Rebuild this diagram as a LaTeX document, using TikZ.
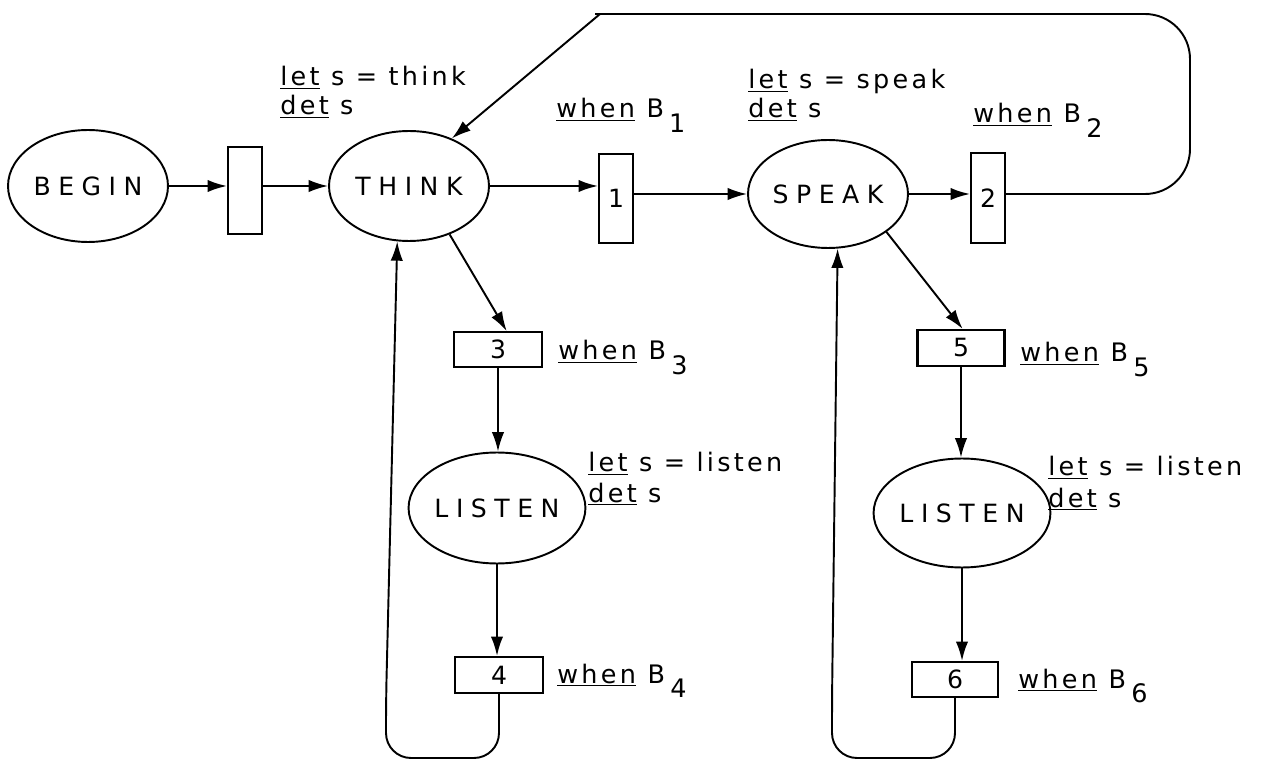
\documentclass[tikz,border=0pt]{standalone}
\usepackage{fontspec}
\setmainfont{DejaVu Sans}
\newfontfamily\nodefont{DejaVu Sans}[LetterSpace=30]
\newfontfamily\lblfont{DejaVu Sans}[LetterSpace=13]
\usetikzlibrary{arrows.meta,shapes.geometric,calc}
\newcommand{\ulw}[1]{\underline{#1}}
\newcommand{\lowsub}[1]{\hspace{3pt}\raisebox{-8.5pt}{#1}}
\begin{document}
\begin{tikzpicture}[x=0.02cm,y=-0.02cm,
  place/.style={ellipse,draw,line width=1.1pt,inner sep=0pt,font=\nodefont\fontsize{14.3}{16}\selectfont},
  trans/.style={rectangle,draw,line width=1.2pt,inner sep=0pt,font=\nodefont\fontsize{14.3}{16}\selectfont},
  lbl/.style={anchor=base west,inner sep=0pt,font=\lblfont\fontsize{14.5}{17}\selectfont},
  arc/.style={line width=1.1pt,-{Latex[length=11pt,width=7pt]}}]
\useasboundingbox[fill=white] (0,0) rectangle (1269,760);

% places
\node[place,minimum width=3.2cm,minimum height=2.24cm] (BEGIN) at (88,186) {BEGIN};
\node[place,minimum width=3.2cm,minimum height=2.2cm] (THINK) at (409,186) {THINK};
\node[place,minimum width=3.2cm,minimum height=2.16cm] (SPEAK) at (828,194) {SPEAK};
\node[place,minimum width=3.2cm,minimum height=2.22cm] (LISTENa) at (497,508) {LISTEN};
\node[place,minimum width=3.2cm,minimum height=2.18cm] (LISTENb) at (962,513) {LISTEN};

% transitions
\node[trans,minimum width=0.68cm,minimum height=1.74cm] (T0) at (245,190.5) {};
\node[trans,minimum width=0.68cm,minimum height=1.78cm] (T1) at (616,198.5) {1};
\node[trans,minimum width=0.68cm,minimum height=1.8cm] (T2) at (988,198) {2};
\node[trans,minimum width=1.76cm,minimum height=0.7cm] (T3) at (498,349.5) {3};
\node[trans,minimum width=1.76cm,minimum height=0.72cm] (T4) at (499,675) {4};
\node[trans,minimum width=1.74cm,minimum height=0.72cm] (T5) at (961,348) {5};
\node[trans,minimum width=1.72cm,minimum height=0.7cm] (T6) at (955,679.5) {6};

% labels
\node[lbl] (lt1) at (280,86) {\ulw{let} s = think};
\node[lbl] (lt2) at (280,115) {\ulw{det} s};
\node[lbl] (ls1) at (748,89) {\ulw{let} s = speak};
\node[lbl] (ls2) at (748,118) {\ulw{det} s};
\node[lbl] (la1) at (588,472) {\ulw{let} s = listen};
\node[lbl] (la2) at (588,502) {\ulw{det} s};
\node[lbl] (lb1) at (1048,476) {\ulw{let} s = listen};
\node[lbl] (lb2) at (1048,507) {\ulw{det} s};
\node[lbl] (w1) at (556,118) {\ulw{when} B\lowsub{1}};
\node[lbl] (w2) at (973,123) {\ulw{when} B\lowsub{2}};
\node[lbl] (w3) at (558,360) {\ulw{when} B\lowsub{3}};
\node[lbl] (w4) at (557,683) {\ulw{when} B\lowsub{4}};
\node[lbl] (w5) at (1020,362) {\ulw{when} B\lowsub{5}};
\node[lbl] (w6) at (1018,688) {\ulw{when} B\lowsub{6}};

% helper coordinates
\coordinate (bot) at (0,758);
\coordinate (tr1) at (1190,194);
\coordinate (tr2) at (1190,14);
\coordinate (tl0) at (640,14);
\coordinate (tl) at (600,14);
\coordinate (l1b) at (386,758);
\coordinate (l1c) at (386,700);
\coordinate (l2b) at (832,758);
\coordinate (l2c) at (832,700);

% arcs
\draw[arc] (BEGIN.east) -- (BEGIN.east -| T0.west);
\draw[arc] (T0.east |- THINK.west) -- (THINK.west);
\draw[arc] (THINK.east) -- (THINK.east -| T1.west);
\draw[arc] (T1.east |- SPEAK.west) -- (SPEAK.west);
\draw[arc] (SPEAK.east) -- (SPEAK.east -| T2.west);
\draw[arc] (T2.east |- SPEAK.east) [rounded corners=0.9cm] -- (tr1) -- (tr2) -- (tl0) [sharp corners] -- (tl) -- (THINK.48);
\draw[arc] (THINK.-50) -- (T3.65);
\draw[arc] (T3.south) -- (T3.south |- LISTENa.north);
\draw[arc] (LISTENa.south) -- (LISTENa.south |- T4.north);
\draw[arc] (T4.south) [rounded corners=0.5cm] -- (T4.south |- bot) -- (l1b) -- (l1c) [sharp corners] -- (THINK.-102);
\draw[arc] (SPEAK.-33) -- (T5.85);
\draw[arc] (T5.south) -- (T5.south |- LISTENb.north);
\draw[arc] (LISTENb.south) -- (LISTENb.south |- T6.north);
\draw[arc] (T6.south) [rounded corners=0.5cm] -- (T6.south |- bot) -- (l2b) -- (l2c) [sharp corners] -- (SPEAK.-80);
\end{tikzpicture}
\end{document}
